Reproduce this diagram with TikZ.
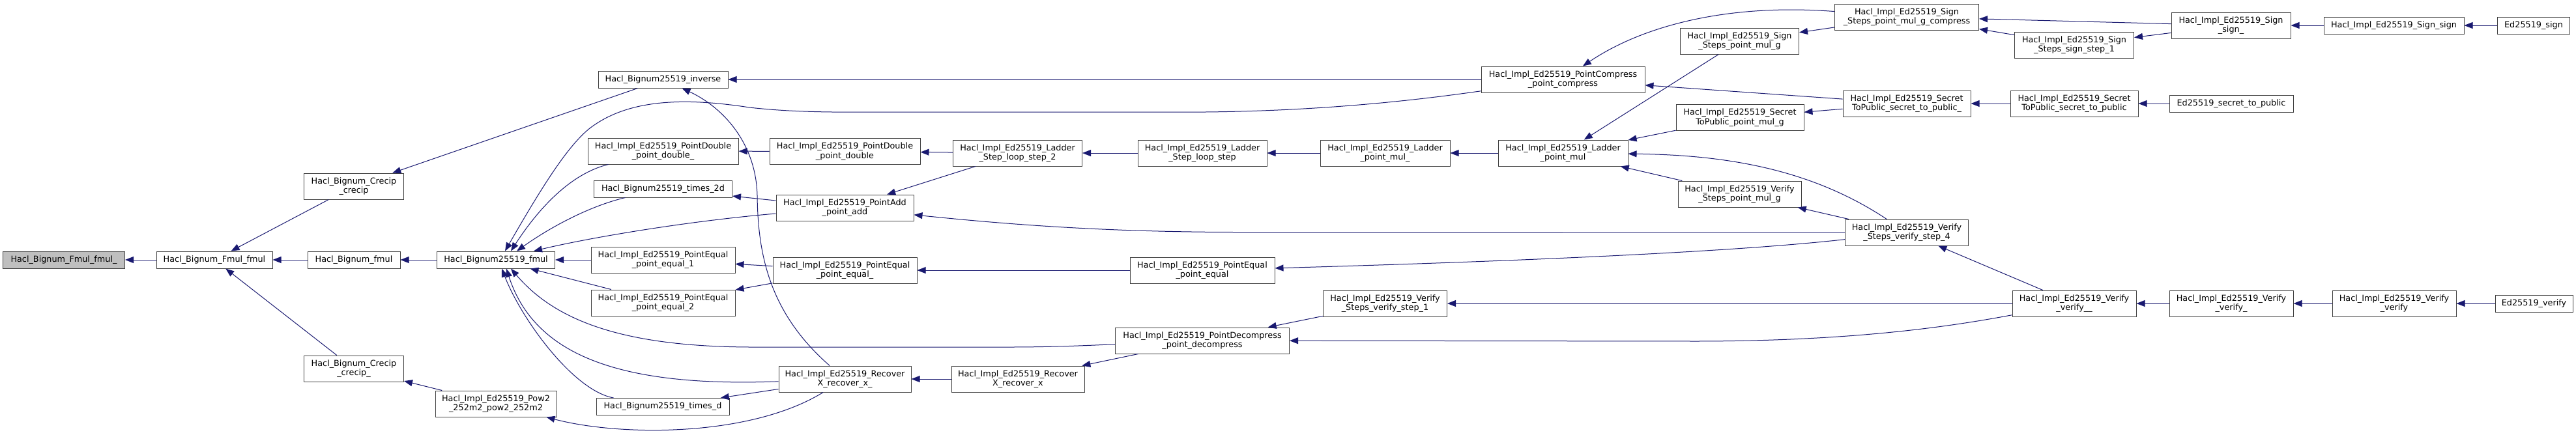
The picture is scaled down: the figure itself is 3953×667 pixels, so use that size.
\documentclass[tikz,border=0pt]{standalone}
\usepackage{fontspec}
\setmainfont{DejaVu Sans}
\usepackage{tikz}
\usetikzlibrary{arrows.meta, calc}
\definecolor{edgeblue}{RGB}{25,25,112}
\definecolor{rootgray}{RGB}{191,191,191}
\definecolor{boxline}{RGB}{64,64,64}

\tikzset{
	fn/.style={draw=boxline, fill=white, line width=1pt, inner sep=0pt, align=center,
		minimum height=26pt, font=\fontsize{12.8}{14.5}\selectfont},
	fntwo/.style={fn, minimum height=40pt},
	call/.style={{Triangle[length=13pt,width=10pt]}-, draw=edgeblue, line width=1pt}
}

\begin{document}
\begin{tikzpicture}[x=1pt,y=-1pt]
	\useasboundingbox (0,0) rectangle (3953,667);
	% functions, column by column
	\node[fn, fill=rootgray, minimum width=187pt] (root) at (98,399) {Hacl\_Bignum\_Fmul\_fmul\_};
	\node[fn, minimum width=178pt] (ffmul) at (329,399) {Hacl\_Bignum\_Fmul\_fmul};
	\node[fntwo, minimum width=153pt] (crecip) at (543,286) {Hacl\_Bignum\_Crecip\\\_crecip};
	\node[fn, minimum width=142pt] (bfmul) at (543,399) {Hacl\_Bignum\_fmul};
	\node[fntwo, minimum width=153pt] (crecipu) at (543,566) {Hacl\_Bignum\_Crecip\\\_crecip\_};
	\node[fn, minimum width=181pt] (f25519) at (761,399) {Hacl\_Bignum25519\_fmul};
	\node[fntwo, minimum width=186pt] (pow2) at (761,620) {Hacl\_Impl\_Ed25519\_Pow2\\\_252m2\_pow2\_252m2};
	\node[fn, minimum width=199pt] (inverse) at (1017.5,122) {Hacl\_Bignum25519\_inverse};
	\node[fntwo, minimum width=231pt] (pdblu) at (1017.5,232) {Hacl\_Impl\_Ed25519\_PointDouble\\\_point\_double\_};
	\node[fn, minimum width=212pt] (times2d) at (1017.5,290) {Hacl\_Bignum25519\_times\_2d};
	\node[fntwo, minimum width=221pt] (peqa) at (1017.5,399) {Hacl\_Impl\_Ed25519\_PointEqual\\\_point\_equal\_1};
	\node[fntwo, minimum width=221pt] (peqb) at (1017.5,465) {Hacl\_Impl\_Ed25519\_PointEqual\\\_point\_equal\_2};
	\node[fn, minimum width=204pt] (timesd) at (1017,624.5) {Hacl\_Bignum25519\_times\_d};
	\node[fntwo, minimum width=231pt] (pdbl) at (1296.5,232.5) {Hacl\_Impl\_Ed25519\_PointDouble\\\_point\_double};
	\node[fntwo, minimum width=211pt] (padd) at (1296.5,319) {Hacl\_Impl\_Ed25519\_PointAdd\\\_point\_add};
	\node[fntwo, minimum width=221pt] (pequ) at (1296.5,415) {Hacl\_Impl\_Ed25519\_PointEqual\\\_point\_equal\_};
	\node[fntwo, minimum width=203pt] (recxu) at (1296.5,582) {Hacl\_Impl\_Ed25519\_Recover\\X\_recover\_x\_};
	\node[fntwo, minimum width=198pt] (lstep2) at (1561.5,235) {Hacl\_Impl\_Ed25519\_Ladder\\\_Step\_loop\_step\_2};
	\node[fntwo, minimum width=204pt] (recx) at (1562,582) {Hacl\_Impl\_Ed25519\_Recover\\X\_recover\_x};
	\node[fntwo, minimum width=198pt] (lstep) at (1845,235) {Hacl\_Impl\_Ed25519\_Ladder\\\_Step\_loop\_step};
	\node[fntwo, minimum width=222pt] (peq) at (1845,415) {Hacl\_Impl\_Ed25519\_PointEqual\\\_point\_equal};
	\node[fntwo, minimum width=267pt] (pdec) at (1845,523) {Hacl\_Impl\_Ed25519\_PointDecompress\\\_point\_decompress};
	\node[fntwo, minimum width=199pt] (pmulu) at (2125.5,235) {Hacl\_Impl\_Ed25519\_Ladder\\\_point\_mul\_};
	\node[fntwo, minimum width=190pt] (vstep1) at (2125.5,466) {Hacl\_Impl\_Ed25519\_Verify\\\_Steps\_verify\_step\_1};
	\node[fntwo, minimum width=251pt] (pcomp) at (2398.5,122) {Hacl\_Impl\_Ed25519\_PointCompress\\\_point\_compress};
	\node[fntwo, minimum width=199pt] (pmul) at (2398.5,235) {Hacl\_Impl\_Ed25519\_Ladder\\\_point\_mul};
	\node[fntwo, minimum width=182pt] (spmg) at (2669.5,63) {Hacl\_Impl\_Ed25519\_Sign\\\_Steps\_point\_mul\_g};
	\node[fntwo, minimum width=196pt] (tpmg) at (2670,180.5) {Hacl\_Impl\_Ed25519\_Secret\\ToPublic\_point\_mul\_g};
	\node[fntwo, minimum width=189pt] (vpmg) at (2669.5,298) {Hacl\_Impl\_Ed25519\_Verify\\\_Steps\_point\_mul\_g};
	\node[fntwo, minimum width=221pt] (spmgc) at (2926,26) {Hacl\_Impl\_Ed25519\_Sign\\\_Steps\_point\_mul\_g\_compress};
	\node[fntwo, minimum width=196pt] (tpubu) at (2926,159) {Hacl\_Impl\_Ed25519\_Secret\\ToPublic\_secret\_to\_public\_};
	\node[fntwo, minimum width=189pt] (vstep4) at (2926,357) {Hacl\_Impl\_Ed25519\_Verify\\\_Steps\_verify\_step\_4};
	\node[fntwo, minimum width=183pt] (sstep1) at (3183,69) {Hacl\_Impl\_Ed25519\_Sign\\\_Steps\_sign\_step\_1};
	\node[fntwo, minimum width=196pt] (tpub) at (3183,159) {Hacl\_Impl\_Ed25519\_Secret\\ToPublic\_secret\_to\_public};
	\node[fntwo, minimum width=190pt] (vfyuu) at (3183,466) {Hacl\_Impl\_Ed25519\_Verify\\\_verify\_\_};
	\node[fntwo, minimum width=183pt] (signu) at (3423.5,39) {Hacl\_Impl\_Ed25519\_Sign\\\_sign\_};
	\node[fn, minimum width=190pt] (edtpub) at (3424,159) {Ed25519\_secret\_to\_public};
	\node[fntwo, minimum width=190pt] (vfyu) at (3424,466) {Hacl\_Impl\_Ed25519\_Verify\\\_verify\_};
	\node[fn, minimum width=215pt] (sign) at (3673.5,39) {Hacl\_Impl\_Ed25519\_Sign\_sign};
	\node[fntwo, minimum width=190pt] (vfy) at (3674,466) {Hacl\_Impl\_Ed25519\_Verify\\\_verify};
	\node[fn, minimum width=111pt] (edsign) at (3888,39) {Ed25519\_sign};
	\node[fn, minimum width=119pt] (edvfy) at (3888.5,466) {Ed25519\_verify};

	% calls (arrow at the called function)
	\draw[call] (root) -- (ffmul);
	\draw[call] (ffmul) -- (crecip);
	\draw[call] (ffmul) -- (bfmul);
	\draw[call] (ffmul) -- (crecipu);
	\draw[call] (bfmul) -- (f25519);
	\draw[call] (crecip) -- (inverse);
	\draw[call] (crecipu) -- (pow2);
	\draw[call] ($(f25519.north)+(14,0)$) .. controls (830,290) and (870,225) .. (905,197)
		.. controls (960,155) and (1040,148) .. (1150,165)
		.. controls (1230,174) and (1300,172) .. (1400,172) -- (1850,172)
		.. controls (2050,170) and (2200,150) .. (pcomp);
	\draw[call] ($(f25519.north)+(23,0)$) .. controls (820,330) and (870,268) .. (pdblu);
	\draw[call] ($(f25519.north)+(32,0)$) .. controls (850,345) and (910,315) .. (times2d);
	\draw[call] ($(f25519.north)+(58,0)$) .. controls (900,366) and (1050,340) .. (padd);
	\draw[call] (f25519) -- (peqa);
	\draw[call] (f25519) -- (peqb);
	\draw[call] ($(f25519.south)+(9,0)$) .. controls (800,490) and (880,600) .. (timesd);
	\draw[call] ($(f25519.south)+(16,0)$) .. controls (820,545) and (950,595) .. (recxu);
	\draw[call] ($(f25519.south)+(23,0)$) .. controls (850,490) and (950,532) .. (1150,533) -- (1550,533)
		.. controls (1620,533) and (1680,530) .. (pdec);
	\draw[call] (inverse) -- (pcomp);
	\draw[call] (inverse) .. controls (1110,165) and (1160,220) .. (1162,300)
		.. controls (1163,390) and (1180,480) .. (recxu);
	\draw[call] (timesd) -- (recxu);
	\draw[call] (pow2) .. controls (950,670) and (1150,672) .. (recxu);
	\draw[call] (pdblu) -- (pdbl);
	\draw[call] (times2d) -- (padd);
	\draw[call] (peqa) -- (pequ);
	\draw[call] (peqb) -- (pequ);
	\draw[call] (pdbl) -- (lstep2);
	\draw[call] (padd) -- (lstep2);
	\draw[call] (padd) .. controls (1550,345) and (1700,356.5) .. (1900,356.5) -- (vstep4);
	\draw[call] (pequ) -- (peq);
	\draw[call] (peq) .. controls (2300,402) and (2650,388) .. (vstep4);
	\draw[call] (recxu) -- (recx);
	\draw[call] (recx) -- (pdec);
	\draw[call] (lstep2) -- (lstep);
	\draw[call] (lstep) -- (pmulu);
	\draw[call] (pmulu) -- (pmul);
	\draw[call] (pdec) -- (vstep1);
	\draw[call] (pdec) -- (2600,524) .. controls (2850,524) and (3000,500) .. (vfyuu);
	\draw[call] (vstep1) -- (vfyuu);
	\draw[call] (pcomp) .. controls (2520,40) and (2650,5) .. (spmgc);
	\draw[call] (pcomp) -- (tpubu);
	\draw[call] (pmul) -- (spmg);
	\draw[call] (pmul) -- (tpmg);
	\draw[call] (pmul) .. controls (2650,238) and (2780,260) .. (vstep4);
	\draw[call] (pmul) -- (vpmg);
	\draw[call] (vpmg) -- (vstep4);
	\draw[call] (spmg) -- (spmgc);
	\draw[call] (tpmg) -- (tpubu);
	\draw[call] (spmgc) -- (signu);
	\draw[call] (spmgc) -- (sstep1);
	\draw[call] (sstep1) -- (signu);
	\draw[call] (tpubu) -- (tpub);
	\draw[call] (tpub) -- (edtpub);
	\draw[call] (vstep4) -- (vfyuu);
	\draw[call] (signu) -- (sign);
	\draw[call] (sign) -- (edsign);
	\draw[call] (vfyuu) -- (vfyu);
	\draw[call] (vfyu) -- (vfy);
	\draw[call] (vfy) -- (edvfy);
\end{tikzpicture}
\end{document}
